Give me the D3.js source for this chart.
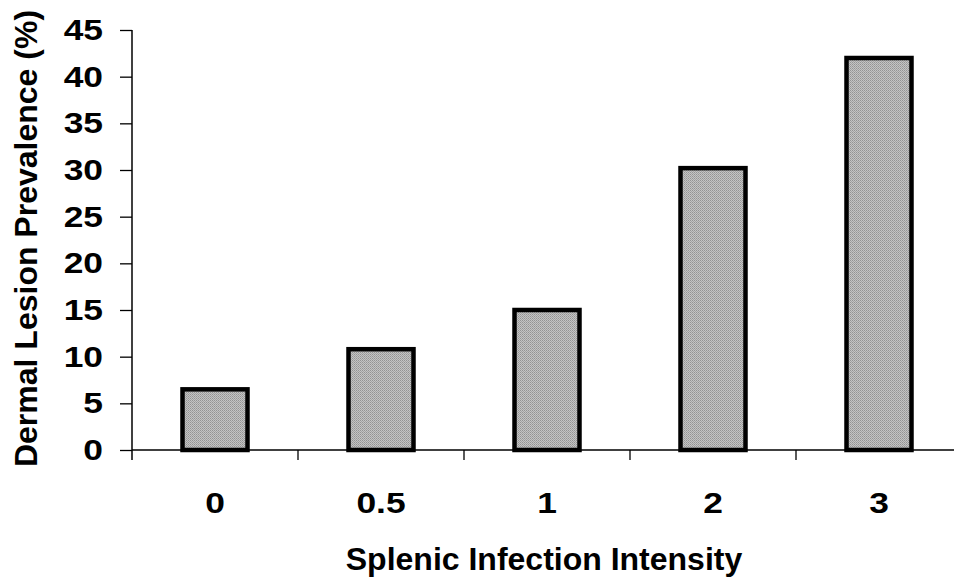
<!DOCTYPE html>
<html>
<head>
<meta charset="utf-8">
<title>Dermal Lesion Prevalence</title>
<script src="https://cdn.jsdelivr.net/npm/d3@7"></script>
<style>
	body { margin: 0; background: #fff; }
	text { font-family: "Liberation Sans", Arial, sans-serif; font-weight: bold; fill: #000; }
</style>
</head>
<body>
<svg id="chart" width="954" height="585"></svg>
<script>
// data
const categories = ["0", "0.5", "1", "2", "3"];
const prevalence = [6.5, 10.8, 15.0, 30.2, 42.0];
const yTicks = [0, 5, 10, 15, 20, 25, 30, 35, 40, 45];

const svg = d3.select("#chart");

// plot area
const plotLeft = 132, plotRight = 962, plotTop = 30, plotBottom = 450;
const stretch = 1.18; // digits in the scan are wide

const x = d3.scaleBand().domain(categories).range([plotLeft, plotRight]).padding(0);
const y = d3.scaleLinear().domain([0, 45]).range([plotBottom, plotTop]);

// widen a text horizontally round the point (ax, 0)
function widen(sel, ax) {
	sel.attr("transform", "translate(" + ax + ",0) scale(" + stretch + ",1) translate(" + (-ax) + ",0)");
}

// dithered grey fill like the scan
const defs = svg.append("defs");
const pat = defs.append("pattern")
	.attr("id", "dots").attr("width", 2).attr("height", 2)
	.attr("patternUnits", "userSpaceOnUse");
pat.append("rect").attr("width", 2).attr("height", 2).attr("fill", "#c4c4c4");
pat.append("rect").attr("width", 1).attr("height", 1).attr("fill", "#939393");
pat.append("rect").attr("x", 1).attr("y", 1).attr("width", 1).attr("height", 1).attr("fill", "#a3a3a3");

// bars
const barW = 65;
svg.selectAll("rect.bar")
	.data(categories)
	.join("rect")
	.attr("class", "bar")
	.attr("x", d => x(d) + x.bandwidth() / 2 - barW / 2)
	.attr("y", (d, i) => y(prevalence[i]))
	.attr("width", barW)
	.attr("height", (d, i) => y(0) - y(prevalence[i]))
	.attr("fill", "url(#dots)")
	.attr("stroke", "#000")
	.attr("stroke-width", 4.5);

// y axis
const yAxis = svg.append("g")
	.attr("transform", "translate(" + plotLeft + ",0)")
	.call(d3.axisLeft(y).tickValues(yTicks).tickSize(12).tickPadding(17));
yAxis.select(".domain").attr("d", "M0," + plotTop + "V" + (plotBottom + 10)).attr("stroke-width", 1.5);
yAxis.selectAll(".tick line").attr("stroke-width", 1.3);
yAxis.selectAll(".tick text").style("font-size", "30px").call(widen, -29);

// x axis: line, ticks between categories
const xAxis = svg.append("g")
	.attr("transform", "translate(0," + plotBottom + ")")
	.call(d3.axisBottom(x).tickSize(0).tickPadding(42));
xAxis.select(".domain").attr("d", "M" + plotLeft + ",0H954").attr("stroke-width", 1.5);
xAxis.selectAll(".tick text").style("font-size", "30px").call(widen, 0);

xAxis.selectAll("line.sep")
	.data(categories.slice(1))
	.join("line")
	.attr("class", "sep")
	.attr("x1", d => x(d)).attr("x2", d => x(d))
	.attr("y1", 0).attr("y2", 10)
	.attr("stroke", "#000").attr("stroke-width", 1.3);

// titles
svg.append("text")
	.attr("x", 544).attr("y", 570)
	.attr("text-anchor", "middle")
	.style("font-size", "32px")
	.text("Splenic Infection Intensity");

svg.append("text")
	.attr("transform", "translate(37,238.5) rotate(-90)")
	.attr("text-anchor", "middle")
	.style("font-size", "32px")
	.text("Dermal Lesion Prevalence (%)");
</script>
</body>
</html>
